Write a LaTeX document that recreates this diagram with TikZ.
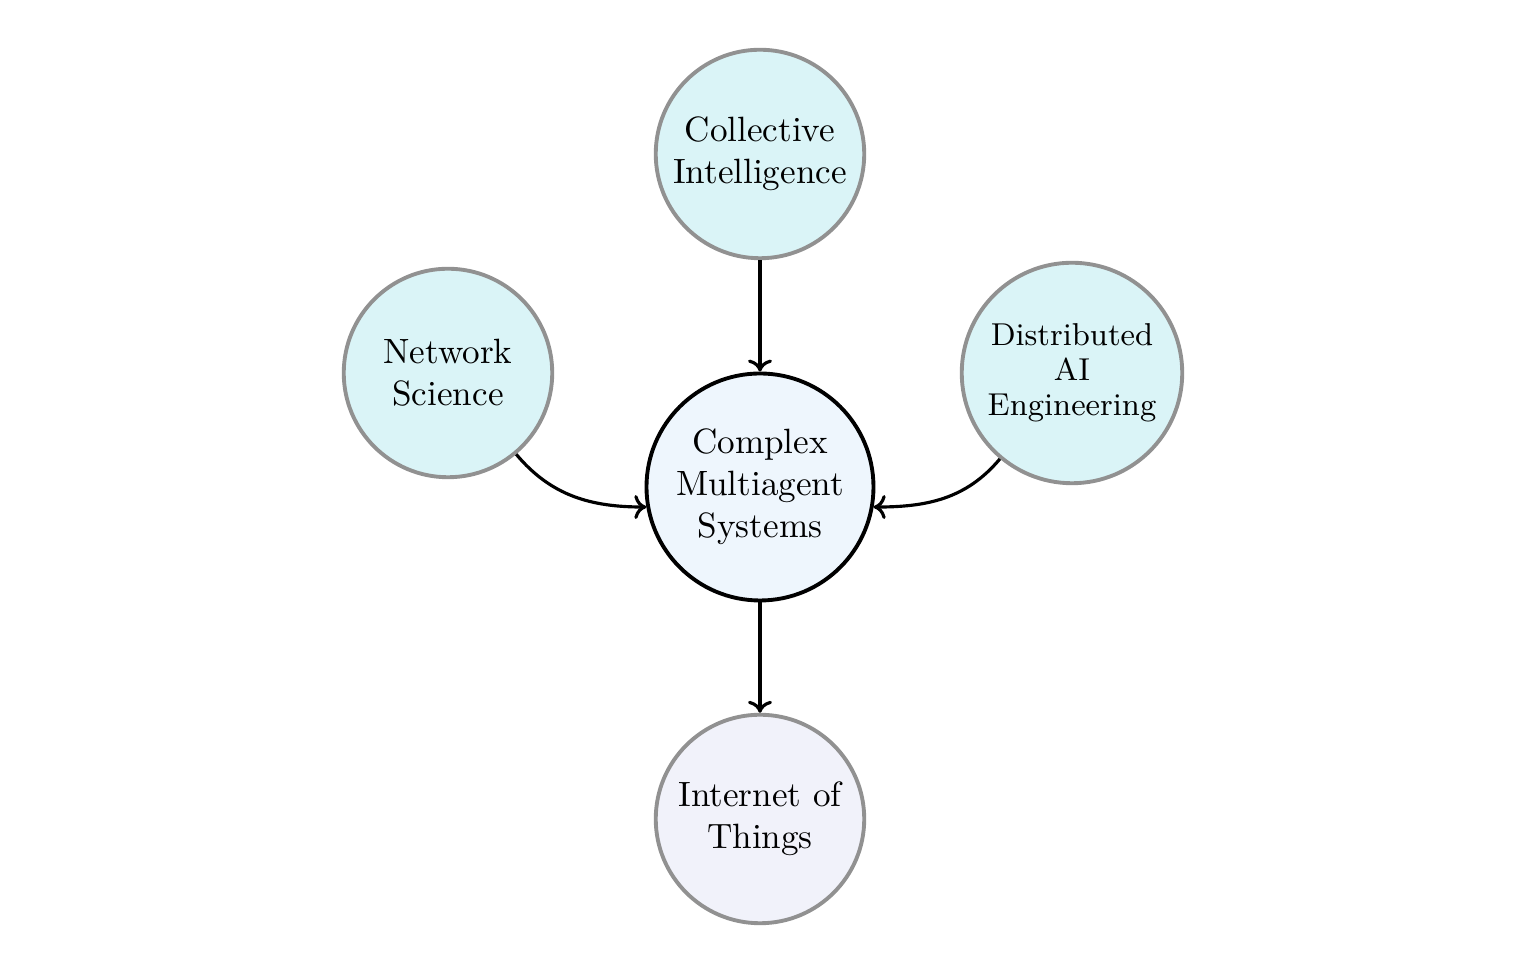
\documentclass[tikz,border=0pt]{standalone}
\usetikzlibrary{arrows.meta}
\definecolor{cyanfill}{RGB}{218,244,247}
\definecolor{corefill}{RGB}{238,246,253}
\definecolor{iotfill}{RGB}{241,242,250}
\definecolor{rimgray}{RGB}{145,145,145}
\tikzset{
  core/.style={circle, draw=black, line width=1.1pt, fill=corefill, minimum size=2.27cm, align=center, inner sep=1pt},
  field/.style={circle, draw=rimgray, line width=1.1pt, fill=cyanfill, minimum size=2.085cm, align=center, inner sep=1pt},
  conn/.style={-{To[length=1.2mm,width=2.4mm]}, line width=0.9pt, black}
}
\begin{document}
\begin{tikzpicture}
\useasboundingbox (-7.60,-4.87) rectangle (7.67,4.87);
\node[core] (cms) at (0,0) {Complex\\Multiagent\\Systems};
\node[field] (ci) at (0,3.33) {Collective\\Intelligence};
\node[field] (ns) at (-3.12,1.14) {Network\\Science};
\node[field, minimum size=2.205cm, font={\fontsize{9}{10}\selectfont}] (dai) at (3.12,1.14) {Distributed\\AI\\Engineering};
\node[field, fill=iotfill] (iot) at (0,-3.32) {Internet of\\Things};
\draw[conn] (ci) -- (cms);
\draw[conn] (cms) -- (iot);
\draw[conn] (ns.-50) to[out=-50, in=180] (cms.190);
\draw[conn] (dai.-130) to[out=-130, in=0] (cms.-10);
\end{tikzpicture}
\end{document}
